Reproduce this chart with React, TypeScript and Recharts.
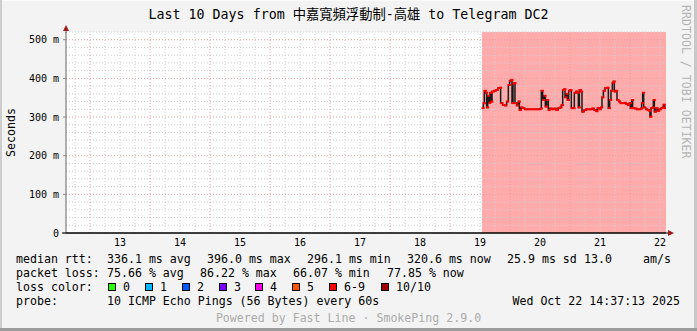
import React from 'react';
import { LineChart, Line, XAxis, YAxis, ReferenceArea, ReferenceLine } from 'recharts';

// time in days (day-of-month, fractional), median rtt in ms
const times = [
  19.533, 19.556, 19.572, 19.594, 19.611, 19.628, 19.65, 19.667, 19.683, 19.7, 19.733, 19.767,
  19.8, 19.828, 19.844, 19.878, 19.911, 19.944, 19.972, 19.994, 20.017, 20.033, 20.05, 20.067,
  20.083, 20.111, 20.139, 20.156, 20.183, 20.211, 20.244, 20.289, 20.333, 20.378, 20.422, 20.467,
  20.506, 20.522, 20.544, 20.567, 20.589, 20.611, 20.639, 20.667, 20.7, 20.733, 20.767, 20.8,
  20.833, 20.856, 20.878, 20.9, 20.917, 20.933, 20.956, 20.978, 21.0, 21.022, 21.05, 21.072,
  21.1, 21.122, 21.139, 21.156, 21.178, 21.2, 21.233, 21.267, 21.3, 21.333, 21.367, 21.4,
  21.433, 21.456, 21.489, 21.511, 21.533, 21.556, 21.583, 21.617, 21.639, 21.661, 21.683, 21.706,
  21.722, 21.739, 21.761, 21.783, 21.811, 21.839, 21.872, 21.906, 21.933, 21.961, 21.989, 22.006,
  22.028, 22.044, 22.078, 22.111, 22.144, 22.178, 22.194, 22.211, 22.228, 22.261, 22.294, 22.317,
  22.333, 22.35, 22.372, 22.389, 22.406, 22.433, 22.461, 22.489, 22.517, 22.539, 22.556, 22.578,
  22.594,
];
const medianRtt = [
  323, 336, 368, 363, 325, 355, 337, 363, 340, 366, 368, 370,
  375, 376, 336, 331, 330, 340, 383, 394, 396, 336, 386, 388,
  336, 330, 340, 318, 325, 323, 320, 320, 320, 320, 320, 320,
  322, 368, 344, 355, 327, 344, 318, 322, 320, 322, 318, 323,
  325, 331, 370, 372, 351, 360, 344, 368, 370, 323, 323, 363,
  366, 363, 325, 370, 366, 314, 318, 320, 320, 320, 322, 318,
  315, 323, 320, 325, 351, 368, 375, 376, 323, 344, 368, 389,
  392, 366, 368, 344, 340, 336, 336, 337, 334, 331, 336, 323,
  344, 323, 322, 320, 320, 322, 336, 363, 325, 320, 318, 316,
  301, 323, 325, 344, 314, 323, 316, 320, 323, 325, 332, 323,
  325,
];

const dayTicks = [13.5, 14.5, 15.5, 16.5, 17.5, 18.5, 19.5, 20.5, 21.5, 22.5];
const dayLabels = ['13', '14', '15', '16', '17', '18', '19', '20', '21', '22'];
const rttTicks = [0, 100, 200, 300, 400, 500];
const lossStart = 19.533;

const lossLabels = ['0', '1', '2', '3', '4', '5', '6-9', '10/10'];
const lossColors = ['#26ff00', '#00b8ff', '#0059ff', '#7e00ff', '#ff00ea', '#ff5500', '#ff0000', '#a10000'];
const lossBoxX = [108, 145, 182, 219, 255, 292, 329, 381];

const data = times.map((t, i) => ({ t, rtt: medianRtt[i] }));

const X_MIN = 12.6;
const X_MAX = 22.6;
const Y_MAX = 520;

// grid positions: minor every 6h / 20 ms, major every day / 100 ms
const minorX: number[] = [];
const majorX: number[] = [];
for (let d = 12.75; d < X_MAX; d += 0.25) {
  const r = Math.round(d * 100) / 100;
  if (Number.isInteger(r)) majorX.push(r);
  else minorX.push(r);
}
const minorY: number[] = [];
const majorY: number[] = [];
for (let v = 20; v <= Y_MAX; v += 20) {
  if (v % 100 === 0) majorY.push(v);
  else minorY.push(v);
}

const mono = '"DejaVu Sans Mono", "Noto Sans CJK TC", monospace';

const txt = (left: number, top: number, s: string, extra: React.CSSProperties = {}) => (
  <div
    key={`${left}-${top}-${s}`}
    style={{
      position: 'absolute',
      left,
      top,
      fontFamily: mono,
      fontSize: 11.6,
      lineHeight: '14px',
      whiteSpace: 'pre',
      color: '#000',
      ...extra,
    }}
  >
    {s}
  </div>
);

export default function App() {
  const row1 = 252;
  const row2 = 266;
  const row3 = 280;
  const row4 = 294;

  return (
    <div
      style={{
        position: 'absolute',
        left: 0,
        top: 0,
        width: 697,
        height: 331,
        background: '#f3f3f3',
        overflow: 'hidden',
      }}
    >
      <div style={{ position: 'absolute', left: 66, top: 32, width: 600, height: 201, background: '#fff' }} />
      <div style={{ position: 'absolute', left: 0, top: 0 }}>
        <LineChart
          width={697}
          height={331}
          data={data}
          margin={{ top: 32, right: 31, bottom: 68, left: 6 }}
        >
          {minorX.map((x) => (
            <ReferenceLine key={`mx${x}`} x={x} stroke="#cfcfcf" strokeDasharray="1 2" />
          ))}
          {minorY.map((y) => (
            <ReferenceLine key={`my${y}`} y={y} stroke="#cfcfcf" strokeDasharray="1 2" />
          ))}
          {majorX.map((x) => (
            <ReferenceLine key={`Mx${x}`} x={x} stroke="#e8a0a0" strokeDasharray="1 2" />
          ))}
          {majorY.map((y) => (
            <ReferenceLine key={`My${y}`} y={y} stroke="#e8a0a0" strokeDasharray="1 2" />
          ))}
          <ReferenceArea
            x1={lossStart}
            x2={X_MAX}
            y1={0}
            y2={Y_MAX}
            fill="#ff0000"
            fillOpacity={0.33}
            stroke="none"
          />
          <XAxis
            type="number"
            dataKey="t"
            domain={[X_MIN, X_MAX]}
            ticks={dayTicks}
            tickFormatter={(v) => dayLabels[dayTicks.indexOf(v)] ?? ''}
            allowDataOverflow
            height={30}
            tickLine={false}
            tickSize={2}
            tickMargin={4}
            axisLine={{ stroke: '#000' }}
            tick={{ fontFamily: mono, fontSize: 10, fill: '#000' }}
          />
          <YAxis
            type="number"
            domain={[0, Y_MAX]}
            ticks={rttTicks}
            tickFormatter={(v) => (v === 0 ? '0' : `${v} m`)}
            allowDataOverflow
            width={60}
            tickSize={3}
            tickMargin={4}
            tickLine={{ stroke: '#888' }}
            axisLine={{ stroke: '#666' }}
            tick={{ fontFamily: mono, fontSize: 10, fill: '#000' }}
          />
          <Line
            type="stepAfter"
            dataKey="rtt"
            stroke="#1a1a1a"
            strokeWidth={1.5}
            dot={false}
            activeDot={false}
            isAnimationActive={false}
          />
          <Line
            type="stepAfter"
            dataKey="rtt"
            stroke="none"
            activeDot={false}
            isAnimationActive={false}
            dot={(p: any) =>
              p.cx == null ? (
                <g key={`d${p.index}`} />
              ) : (
                <rect key={`d${p.index}`} x={p.cx - 0.5} y={p.cy - 1} width={3} height={2} fill="#ff0000" />
              )
            }
          />
        </LineChart>
      </div>

      <svg
        width={697}
        height={331}
        style={{ position: 'absolute', left: 0, top: 0, pointerEvents: 'none' }}
      >
        <line x1={66} y1={29} x2={66} y2={33} stroke="#666" />
        <polygon points="63,31 69,31 66,25" fill="#9e1a1a" />
        <line x1={62} y1={233} x2={668} y2={233} stroke="#000" />
        <polygon points="668,230 668,236 674,233" fill="#9e1a1a" />
        <rect x={0} y={0} width={697} height={1} fill="#fafafa" />
        <rect x={0} y={0} width={2} height={331} fill="#cdcdcd" />
        <rect x={694} y={0} width={3} height={331} fill="#c8c8c8" />
        <rect x={0} y={328} width={697} height={3} fill="#9c9c9c" />
      </svg>

      <div
        style={{
          position: 'absolute',
          left: 0,
          top: 7,
          width: 697,
          height: 16,
          textAlign: 'center',
          fontFamily: mono,
          fontSize: 13.3,
          lineHeight: '16px',
          whiteSpace: 'pre',
          color: '#000',
        }}
      >
        Last 10 Days from 中嘉寬頻浮動制-高雄 to Telegram DC2
      </div>

      <div
        style={{
          position: 'absolute',
          left: 4,
          top: 107,
          height: 50,
          width: 14,
          fontFamily: mono,
          fontSize: 11.6,
          lineHeight: '14px',
          writingMode: 'vertical-rl',
          transform: 'rotate(180deg)',
          whiteSpace: 'pre',
          color: '#000',
        }}
      >
        Seconds
      </div>

      <div
        style={{
          position: 'absolute',
          left: 679,
          top: 5,
          width: 14,
          fontFamily: mono,
          fontSize: 11.6,
          lineHeight: '14px',
          writingMode: 'vertical-rl',
          whiteSpace: 'pre',
          color: '#b4b4b4',
        }}
      >
        RRDTOOL / TOBI OETIKER
      </div>

      {txt(16, row1, 'median rtt:')}
      {txt(107, row1, '336.1 ms avg')}
      {txt(207, row1, '396.0 ms max')}
      {txt(307, row1, '296.1 ms min')}
      {txt(407, row1, '320.6 ms now')}
      {txt(507, row1, '25.9 ms sd')}
      {txt(584, row1, '13.0')}
      {txt(643, row1, 'am/s')}

      {txt(16, row2, 'packet loss:')}
      {txt(107, row2, '75.66 % avg')}
      {txt(200, row2, '86.22 % max')}
      {txt(293, row2, '66.07 % min')}
      {txt(387, row2, '77.85 % now')}

      {txt(16, row3, 'loss color:')}
      {lossLabels.map((l, i) => (
        <React.Fragment key={l}>
          <div
            style={{
              position: 'absolute',
              left: lossBoxX[i],
              top: row3 + 3,
              width: 6,
              height: 6,
              background: lossColors[i],
              border: '1px solid #000',
            }}
          />
          {txt(lossBoxX[i] + 15, row3, l)}
        </React.Fragment>
      ))}

      {txt(16, row4, 'probe:')}
      {txt(107, row4, '10 ICMP Echo Pings (56 Bytes) every 60s')}
      {txt(0, row4, 'Wed Oct 22 14:37:13 2025', { left: 'auto', right: 17 })}

      {txt(0, 311, 'Powered by Fast Line · SmokePing 2.9.0', {
        width: 697,
        textAlign: 'center',
        color: '#ababab',
      })}
    </div>
  );
}
